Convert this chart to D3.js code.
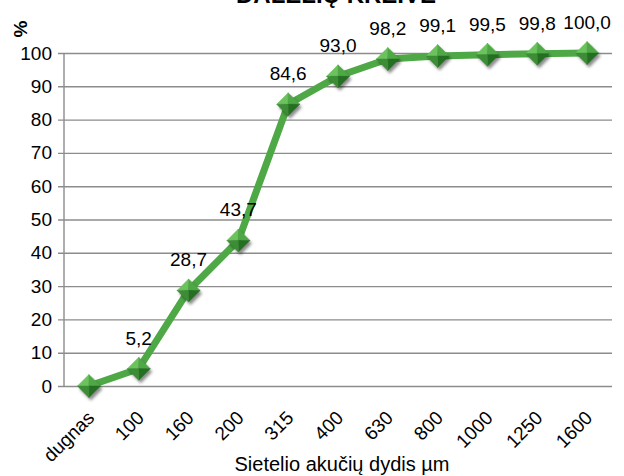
<!DOCTYPE html>
<html>
<head>
<meta charset="utf-8">
<script src="https://cdn.jsdelivr.net/npm/d3@7"></script>
<style>
body { margin: 0; background: #fff; }
text { font-family: "Liberation Sans", Arial, sans-serif; }
</style>
</head>
<body>
<script>
const categories = ['dugnas', '100', '160', '200', '315', '400', '630', '800', '1000', '1250', '1600']
const values = [0, 5.2, 28.7, 43.7, 84.6, 93.0, 98.2, 99.1, 99.5, 99.8, 100.0]
const yTicks = [0, 10, 20, 30, 40, 50, 60, 70, 80, 90, 100]

const m = {
    width: 624,
    height: 476,
    left: 64,
    right: 612,
    top: 53,
    bottom: 386
}

const svg = d3.select('body').append('svg')
    .attr('width', m.width)
    .attr('height', m.height)

const defs = svg.append('defs')
defs.append('filter').attr('id', 'sh')
    .append('feGaussianBlur').attr('stdDeviation', 1.5)

const x = d3.scalePoint()
    .domain(categories)
    .range([m.left, m.right])
    .padding(0.5)

const y = d3.scaleLinear()
    .domain([0, 100])
    .range([m.bottom, m.top])

// title (cut off at top in the original)
svg.append('text')
    .attr('x', 336)
    .attr('y', 3)
    .attr('text-anchor', 'middle')
    .attr('font-size', 24)
    .attr('font-weight', 'bold')
    .text('DALELIŲ KREIVĖ')

// grid + y axis
const yAxis = d3.axisLeft(y)
    .tickValues(yTicks)
    .tickSize(-(m.right - m.left))
    .tickPadding(12)
    .tickSizeOuter(0)

const gy = svg.append('g')
    .attr('transform', `translate(${m.left},0)`)
    .call(yAxis)
gy.select('.domain').remove()
gy.selectAll('.tick line')
    .attr('stroke', '#8c8c8c')
    .attr('stroke-width', 1.4)
    .attr('x1', -6)
gy.selectAll('.tick text')
    .attr('font-size', 19)
    .attr('fill', '#000')
    .attr('font-family', '"Liberation Sans", Arial, sans-serif')

svg.append('line')
    .attr('x1', m.left).attr('x2', m.left)
    .attr('y1', m.top).attr('y2', m.bottom)
    .attr('stroke', '#8c8c8c')
    .attr('stroke-width', 1.4)

svg.append('text')
    .attr('transform', 'translate(27,29) rotate(-90)')
    .attr('text-anchor', 'middle')
    .attr('font-size', 19)
    .attr('font-weight', 'bold')
    .text('%')

// x labels
const xAxis = d3.axisBottom(x).tickSize(0).tickPadding(0)
const gx = svg.append('g')
    .attr('transform', `translate(0,${m.bottom})`)
    .call(xAxis)
gx.select('.domain').remove()
gx.selectAll('.tick text')
    .attr('font-size', 19)
    .attr('fill', '#000')
    .attr('font-family', '"Liberation Sans", Arial, sans-serif')
    .attr('text-anchor', 'end')
    .attr('y', 0)
    .attr('dy', 0)
    .attr('transform', 'translate(6,33) rotate(-45)')

svg.append('text')
    .attr('x', 342)
    .attr('y', 471)
    .attr('text-anchor', 'middle')
    .attr('font-size', 20)
    .text('Sietelio akučių dydis µm')

// line
const pts = categories.map((c, i) => [x(c), y(values[i])])

svg.append('path')
    .attr('d', d3.line()(pts))
    .attr('fill', 'none')
    .attr('stroke', '#4ea845')
    .attr('stroke-width', 7)
    .attr('stroke-linejoin', 'round')

// markers
const s = 11.5
const mk = svg.selectAll('.mk')
    .data(pts)
    .enter()
    .append('g')
    .attr('transform', d => `translate(${d[0]},${d[1]})`)

mk.append('path')
    .attr('d', `M0,${-s}L${s},0L0,${s}L${-s},0Z`)
    .attr('transform', 'translate(2,3)')
    .attr('fill', 'rgba(0,0,0,0.45)')
    .attr('filter', 'url(#sh)')

const faces = [
    [[0, -s], [-s, 0], '#6cc35e'],
    [[0, -s], [s, 0], '#4ea845'],
    [[s, 0], [0, s], '#256f22'],
    [[0, s], [-s, 0], '#3d8d36']
]
faces.forEach(f => {
    mk.append('path')
        .attr('d', `M0,0L${f[0][0]},${f[0][1]}L${f[1][0]},${f[1][1]}Z`)
        .attr('fill', f[2])
        .attr('stroke', f[2])
        .attr('stroke-width', 0.5)
})

// data labels
svg.selectAll('.lbl')
    .data(values.slice(1))
    .enter()
    .append('text')
    .attr('x', (d, i) => x(categories[i + 1]))
    .attr('y', d => y(d) - 24)
    .attr('text-anchor', 'middle')
    .attr('font-size', 19)
    .text(d => d.toFixed(1).replace('.', ','))
</script>
</body>
</html>
